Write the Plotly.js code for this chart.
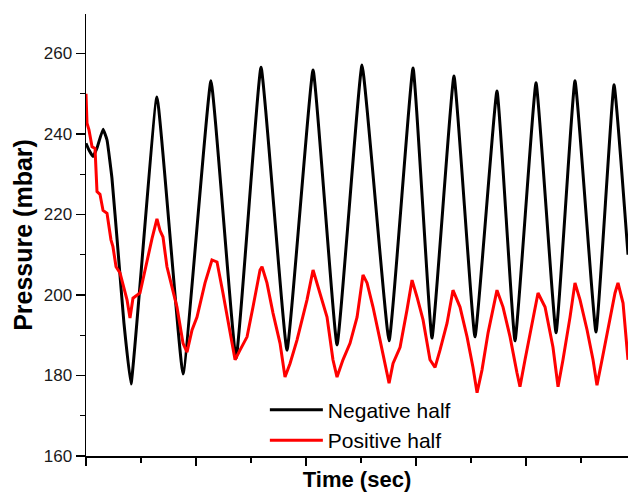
<!DOCTYPE html>
<html>
<head>
<meta charset="utf-8">
<script src="https://cdn.plot.ly/plotly-3.0.1.min.js"></script>
<style>
  html, body { margin: 0; padding: 0; background: #ffffff; overflow: hidden; }
  #chart { width: 628px; height: 492px; }
</style>
</head>
<body>
<div id="chart"></div>
<script>
// Time axis (arbitrary seconds, no tick labels in the original)
const timeNeg = [0, 0.027, 0.064, 0.1, 0.155, 0.191, 0.236, 0.291, 0.345, 0.409,
  0.645, 0.882, 1.136, 1.364, 1.591, 1.827, 2.064, 2.282, 2.509, 2.755,
  2.973, 3.145, 3.345, 3.536, 3.736, 3.9, 4.091, 4.273, 4.445, 4.636, 4.8, 4.927];
const pressureNeg = [237.7, 236, 234.4, 236.5, 241.2, 238.5, 229, 211, 193, 177.9,
  249.2, 180.4, 253.2, 184.3, 256.6, 186.3, 255.9, 187.6, 257.1, 188.6,
  256.4, 189.3, 254.4, 189.6, 250.7, 188.6, 252.7, 190.6, 253.2, 190.8, 252.2, 210];

const timePos = [0, 0.009, 0.027, 0.055, 0.082, 0.1, 0.127, 0.155, 0.191, 0.227,
  0.245, 0.273, 0.309, 0.373, 0.4, 0.427, 0.491, 0.555, 0.6, 0.645,
  0.673, 0.7, 0.736, 0.827, 0.882, 0.918, 0.964, 1.009, 1.082, 1.145,
  1.191, 1.245, 1.309, 1.355, 1.4, 1.464, 1.518, 1.582, 1.6, 1.645,
  1.7, 1.764, 1.809, 1.855, 1.918, 2.009, 2.064, 2.127, 2.191, 2.245,
  2.282, 2.336, 2.4, 2.464, 2.518, 2.555, 2.609, 2.673, 2.718, 2.755,
  2.791, 2.855, 2.918, 2.964, 3.009, 3.064, 3.127, 3.173, 3.218, 3.282,
  3.336, 3.4, 3.464, 3.518, 3.555, 3.6, 3.655, 3.736, 3.791, 3.855,
  3.918, 3.945, 3.991, 4.055, 4.109, 4.173, 4.245, 4.291, 4.336, 4.4,
  4.445, 4.491, 4.555, 4.609, 4.645, 4.691, 4.745, 4.809, 4.836, 4.882, 4.927];
const pressurePos = [250, 242.7, 241, 236.8, 236.4, 225.7, 225, 221, 220.3, 213.7,
  212, 207, 205.5, 198.8, 194.3, 199.2, 200.5, 208.7, 214, 218.9,
  216, 214.4, 207, 197, 188, 185.8, 191.3, 194.5, 203, 208.7,
  208.2, 200.5, 190.5, 183.9, 186.3, 189.6, 197, 206.2, 207, 203,
  195.5, 188, 179.6, 183, 188.8, 198.8, 206.2, 200.5, 194.5, 183.9,
  179.6, 183.9, 188, 194.5, 205, 203, 197, 188.8, 183, 178.1,
  183, 187, 196.3, 203.7, 199.5, 193.8, 183.9, 182, 186.3, 193,
  201.2, 197, 189.6, 182, 175.7, 181.4, 190.6, 201.2, 197, 189.6,
  180.6, 177.2, 183.9, 193, 200.5, 197, 187, 177.2, 183.9, 194.5,
  203, 198.8, 191.3, 183.9, 177.6, 183.9, 191.3, 200.5, 203, 198, 183.9];

const seriesNames = ["Negative half", "Positive half"];
const seriesColors = ["#000000", "#ff0000"];

const xRange = [0, 4.927];
const yRange = [160, 269.8];

const traces = [
  { x: timeNeg, y: pressureNeg, name: seriesNames[0], type: "scatter", mode: "lines",
    line: { color: seriesColors[0], width: 3, shape: "spline", smoothing: 0.3 } },
  { x: timePos, y: pressurePos, name: seriesNames[1], type: "scatter", mode: "lines",
    line: { color: seriesColors[1], width: 3 } }
];

const axisFont = { family: "Liberation Sans, Arial, sans-serif", size: 17, color: "#1a1a1a" };

const layout = {
  width: 628, height: 492,
  margin: { l: 86, r: 0, t: 14, b: 36 },
  paper_bgcolor: "#ffffff", plot_bgcolor: "#ffffff",
  showlegend: true,
  legend: {
    x: 0.33, y: 0.15, xanchor: "left", yanchor: "top",
    bgcolor: "rgba(0,0,0,0)", borderwidth: 0,
    font: { family: "Liberation Sans, Arial, sans-serif", size: 21, color: "#000" },
    itemwidth: 53, tracegroupgap: 0
  },
  xaxis: {
    range: xRange, showgrid: false, zeroline: false,
    showline: true, linecolor: "#000", linewidth: 1.5,
    ticks: "outside", ticklen: 8, tickwidth: 1.3, tickcolor: "#000",
    dtick: 1, tick0: 0, showticklabels: false,
    minor: { ticks: "outside", ticklen: 5, tickwidth: 1.3, tickcolor: "#000", dtick: 0.5, showgrid: false },
    title: { text: "Time (sec)", standoff: 12,
      font: { family: "Liberation Sans, Arial, sans-serif", size: 22, color: "#000", weight: "bold" } }
  },
  yaxis: {
    range: yRange, showgrid: false, zeroline: false,
    showline: true, linecolor: "#000", linewidth: 1.5,
    ticks: "outside", ticklen: 9, tickwidth: 1.3, tickcolor: "#000",
    dtick: 20, tick0: 160, tickfont: axisFont,
    minor: { ticks: "outside", ticklen: 5, tickwidth: 1.3, tickcolor: "#000", dtick: 10, showgrid: false },
    title: { text: "Pressure (mbar)", standoff: 4,
      font: { family: "Liberation Sans, Arial, sans-serif", size: 25, color: "#000", weight: "bold" } }
  },
  xaxis2: {
    overlaying: "x", side: "top", anchor: "y", range: xRange,
    showgrid: false, zeroline: false, showline: true, linecolor: "#000", linewidth: 1.5,
    ticks: "inside", ticklen: 8, tickwidth: 1.3, tickcolor: "#000",
    dtick: 1, tick0: 0, showticklabels: false,
    minor: { ticks: "inside", ticklen: 5, tickwidth: 1.3, tickcolor: "#000", dtick: 0.5, showgrid: false }
  },
  yaxis2: {
    overlaying: "y", side: "right", anchor: "x", range: yRange,
    showgrid: false, zeroline: false, showline: true, linecolor: "#000", linewidth: 1.5,
    ticks: "inside", ticklen: 5, tickwidth: 1.3, tickcolor: "#000",
    dtick: 20, tick0: 160, showticklabels: false
  }
};

Plotly.newPlot("chart", traces, layout, { staticPlot: true, displayModeBar: false });
</script>
</body>
</html>
